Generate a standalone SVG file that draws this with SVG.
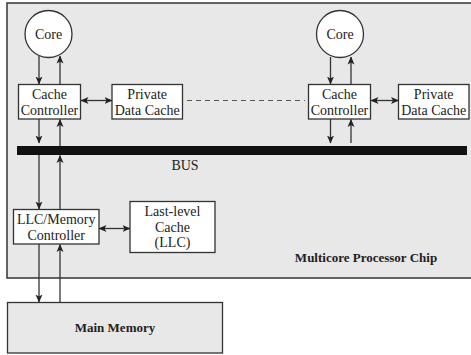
<svg xmlns="http://www.w3.org/2000/svg" width="471" height="355" viewBox="0 0 471 355" font-family="'Liberation Serif', 'DejaVu Serif', 'Times New Roman', serif">
  <style>
    .chip { fill: #e8e8e8; stroke: #333; stroke-width: 1.5; }
    .box { fill: #fff; stroke: #333; stroke-width: 1.3; }
    .mem { fill: #e8e8e8; stroke: #333; stroke-width: 1.3; }
    text { font-family: 'Liberation Serif', 'DejaVu Serif', 'Times New Roman', serif; }
    .lbl { font-size: 14px; fill: #222; text-anchor: middle; }
    .bold { font-weight: bold; font-size: 13px; }
    .wire { stroke: #333; stroke-width: 1.3; fill: none; }
    .dash { stroke: #555; stroke-width: 1; stroke-dasharray: 5 4; fill: none; }
  </style>
  <defs>
    <marker id="arrow" viewBox="0 0 8 8" refX="7.5" refY="4" markerWidth="8" markerHeight="8" markerUnits="userSpaceOnUse" orient="auto-start-reverse">
      <path d="M0,0.5 L8,4 L0,7.5 L2,4 z" fill="#222"/>
    </marker>
  </defs>

  <!-- chip outline (runs off the right edge) -->
  <g id="chip">
    <rect class="chip" x="7" y="3" width="475" height="275"/>
    <text class="lbl bold" x="366" y="262">Multicore Processor Chip</text>
  </g>

  <!-- shared bus -->
  <g id="bus">
    <rect x="17" y="146" width="450" height="9" fill="#111"/>
    <text class="lbl" x="185" y="170">BUS</text>
  </g>

  <g id="core1">
    <circle class="box" cx="48.5" cy="34" r="23.5"/>
    <text class="lbl" x="48.5" y="38.5">Core</text>
  </g>
  <g id="cc1">
    <rect class="box" x="18.5" y="84.5" width="62" height="34.5"/>
    <text class="lbl" x="49.5" y="98.5">Cache</text>
    <text class="lbl" x="49.5" y="114.5">Controller</text>
  </g>
  <g id="pdc1">
    <rect class="box" x="112" y="84.5" width="70.5" height="34.5"/>
    <text class="lbl" x="147.2" y="98.5">Private</text>
    <text class="lbl" x="147.2" y="114.5">Data Cache</text>
  </g>

  <g id="core2">
    <circle class="box" cx="340" cy="34" r="23.5"/>
    <text class="lbl" x="340" y="38.5">Core</text>
  </g>
  <g id="cc2">
    <rect class="box" x="308.5" y="84.5" width="62" height="34.5"/>
    <text class="lbl" x="339.5" y="98.5">Cache</text>
    <text class="lbl" x="339.5" y="114.5">Controller</text>
  </g>
  <g id="pdc2">
    <rect class="box" x="398.5" y="84.5" width="70.5" height="34.5"/>
    <text class="lbl" x="433.7" y="98.5">Private</text>
    <text class="lbl" x="433.7" y="114.5">Data Cache</text>
  </g>

  <g id="llcmc">
    <rect class="box" x="13.5" y="209.5" width="85.5" height="34.5"/>
    <text class="lbl" x="56.2" y="223.5">LLC/Memory</text>
    <text class="lbl" x="56.2" y="239.5">Controller</text>
  </g>
  <g id="llc">
    <rect class="box" x="130" y="201.5" width="85" height="51"/>
    <text class="lbl" x="172.5" y="216">Last-level</text>
    <text class="lbl" x="172.5" y="231.5">Cache</text>
    <text class="lbl" x="172.5" y="247">(LLC)</text>
  </g>

  <g id="mainmem">
    <rect class="mem" x="7.5" y="302.5" width="215" height="50.5"/>
    <text class="lbl bold" x="115" y="332">Main Memory</text>
  </g>

  <g id="connectors">
    <!-- core 1 <-> cache controller 1 -->
    <line class="wire" x1="39" y1="56" x2="39" y2="84" marker-end="url(#arrow)"/>
    <line class="wire" x1="60" y1="84.5" x2="60" y2="56" marker-end="url(#arrow)"/>
    <!-- cache controller 1 <-> bus -->
    <line class="wire" x1="39" y1="119" x2="39" y2="143" marker-end="url(#arrow)"/>
    <line class="wire" x1="60" y1="146" x2="60" y2="119.5" marker-end="url(#arrow)"/>
    <!-- cache controller 1 <-> private cache 1 -->
    <line class="wire" x1="81" y1="100.5" x2="112" y2="100.5" marker-start="url(#arrow)" marker-end="url(#arrow)"/>
    <!-- more cores -->
    <line class="dash" x1="187" y1="100.5" x2="305" y2="100.5"/>

    <!-- core 2 <-> cache controller 2 -->
    <line class="wire" x1="330.5" y1="57" x2="330.5" y2="84" marker-end="url(#arrow)"/>
    <line class="wire" x1="351" y1="84.5" x2="351" y2="57" marker-end="url(#arrow)"/>
    <!-- cache controller 2 <-> bus -->
    <line class="wire" x1="330.5" y1="119" x2="330.5" y2="143" marker-end="url(#arrow)"/>
    <line class="wire" x1="351" y1="143" x2="351" y2="119.5" marker-end="url(#arrow)"/>
    <!-- cache controller 2 <-> private cache 2 -->
    <line class="wire" x1="371" y1="100.5" x2="398.5" y2="100.5" marker-start="url(#arrow)" marker-end="url(#arrow)"/>

    <!-- bus <-> LLC/memory controller -->
    <line class="wire" x1="39" y1="155" x2="39" y2="209" marker-end="url(#arrow)"/>
    <line class="wire" x1="60" y1="209.5" x2="60" y2="155.5" marker-end="url(#arrow)"/>
    <!-- LLC/memory controller <-> LLC -->
    <line class="wire" x1="99" y1="228.5" x2="130" y2="228.5" marker-start="url(#arrow)" marker-end="url(#arrow)"/>
    <!-- LLC/memory controller <-> main memory -->
    <line class="wire" x1="39" y1="244" x2="39" y2="302" marker-end="url(#arrow)"/>
    <line class="wire" x1="60" y1="302.5" x2="60" y2="244.5" marker-end="url(#arrow)"/>
  </g>
</svg>
